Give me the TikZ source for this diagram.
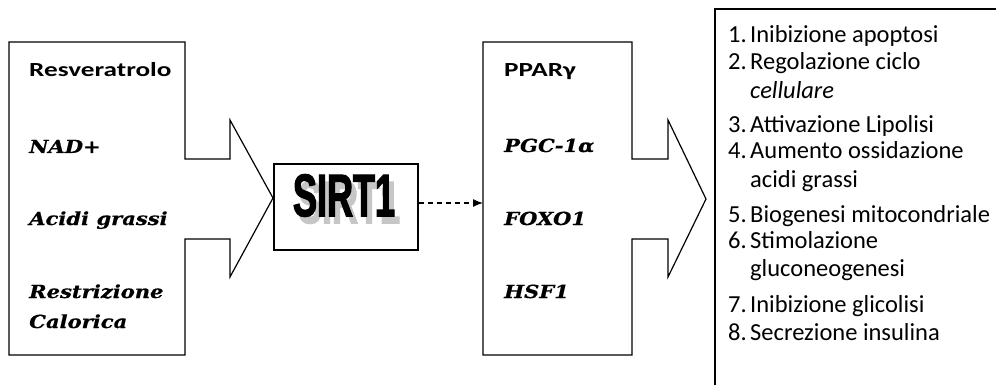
\documentclass[tikz,border=0pt]{standalone}
\usepackage{fontspec}
\setmainfont{Carlito}
\newfontfamily\labelsans[FakeStretch=1.36]{Carlito}
\newfontfamily\labelserif[FakeStretch=1.17,FakeBold=0.6]{DejaVu Serif}
\newfontfamily\sirtfont[FakeStretch=0.6,FakeBold=2]{Liberation Sans}
\usepackage{tikz}
\usetikzlibrary{arrows.meta, positioning}
\tikzset{
  block/.style = {draw, line width=1.2pt, line join=miter},
  lsans/.style = {anchor=base west, inner sep=0pt, font=\labelsans\bfseries\fontsize{20}{22}\selectfont},
  lserif/.style = {anchor=base west, inner sep=0pt, font=\labelserif\bfseries\itshape\fontsize{18}{20}\selectfont},
  item/.style = {anchor=base west, inner sep=0pt, font=\fontsize{24.5}{27}\selectfont},
  dline/.style = {draw, line width=1.2pt, dash pattern=on 5pt off 4pt, -{Latex[length=10pt,width=8pt]}}
}
\newcommand{\sirtlabel}{\rlap{\kern5pt\raisebox{-7pt}{\textcolor{gray!45}{SIRT1}}}SIRT1}

\begin{document}
\begin{tikzpicture}[x=1pt, y=-1pt]
	\useasboundingbox (0,0) rectangle (996,385);

	% block arrows
	\path [block] (9,42) -- (185,42) -- (185,159) -- (230,159) -- (230,120) -- (273,198)
		-- (230,277) -- (230,239) -- (185,239) -- (185,355) -- (9,355) -- cycle;
	\path [block] (483,42) -- (632,42) -- (632,159) -- (668,159) -- (668,120) -- (706,199)
		-- (668,277) -- (668,239) -- (632,239) -- (632,355) -- (483,355) -- cycle;
	\path [block] (1010,9) -- (715,9) -- (715,400);

	% activators
	\node [lsans] (resv) at (29,77) {Resveratrolo};
	\node [lserif] (nad) at (29,153) {NAD+};
	\node [lserif] (acidi) at (29,225) {Acidi grassi};
	\node [lserif] (restr) at (29,298) {Restrizione};
	\node [lserif] (calor) at (29,328) {Calorica};

	% SIRT1
	\node [block, minimum width=144pt, minimum height=86pt] (sirt) at (346,207) {};
	\node [inner sep=0pt, font=\sirtfont\bfseries\fontsize{60}{60}\selectfont] (sirttext) at (344,199) {\sirtlabel};
	\coordinate (target) at (483,203);
	\path [dline] (sirt.east |- target) -- (target);

	% targets
	\node [lsans] (ppar) at (504,77) {PPARγ};
	\node [lserif] (pgc) at (504,152) {PGC-1α};
	\node [lserif] (foxo) at (504,225) {FOXO1};
	\node [lserif] (hsf) at (504,298) {HSF1};

	% effects
	\foreach \y/\n in {43/1, 70/2, 132/3, 159/4, 222/5, 248/6, 312/7, 340/8}
		\node [item] (num\n) at (728,\y) {\n.};
	\node [item] (eff1) at (750,43) {Inibizione apoptosi};
	\node [item] (eff2) at (750,70) {Regolazione ciclo};
	\node [item] (eff2b) at (750,99) {\itshape cellulare};
	\node [item] (eff3) at (750,132) {Attivazione Lipolisi};
	\node [item] (eff4) at (750,159) {Aumento ossidazione};
	\node [item] (eff4b) at (750,187) {acidi grassi};
	\node [item] (eff5) at (750,222) {Biogenesi mitocondriale};
	\node [item] (eff6) at (750,248) {Stimolazione};
	\node [item] (eff6b) at (750,276) {gluconeogenesi};
	\node [item] (eff7) at (750,312) {Inibizione glicolisi};
	\node [item] (eff8) at (750,340) {Secrezione insulina};
\end{tikzpicture}
\end{document}
